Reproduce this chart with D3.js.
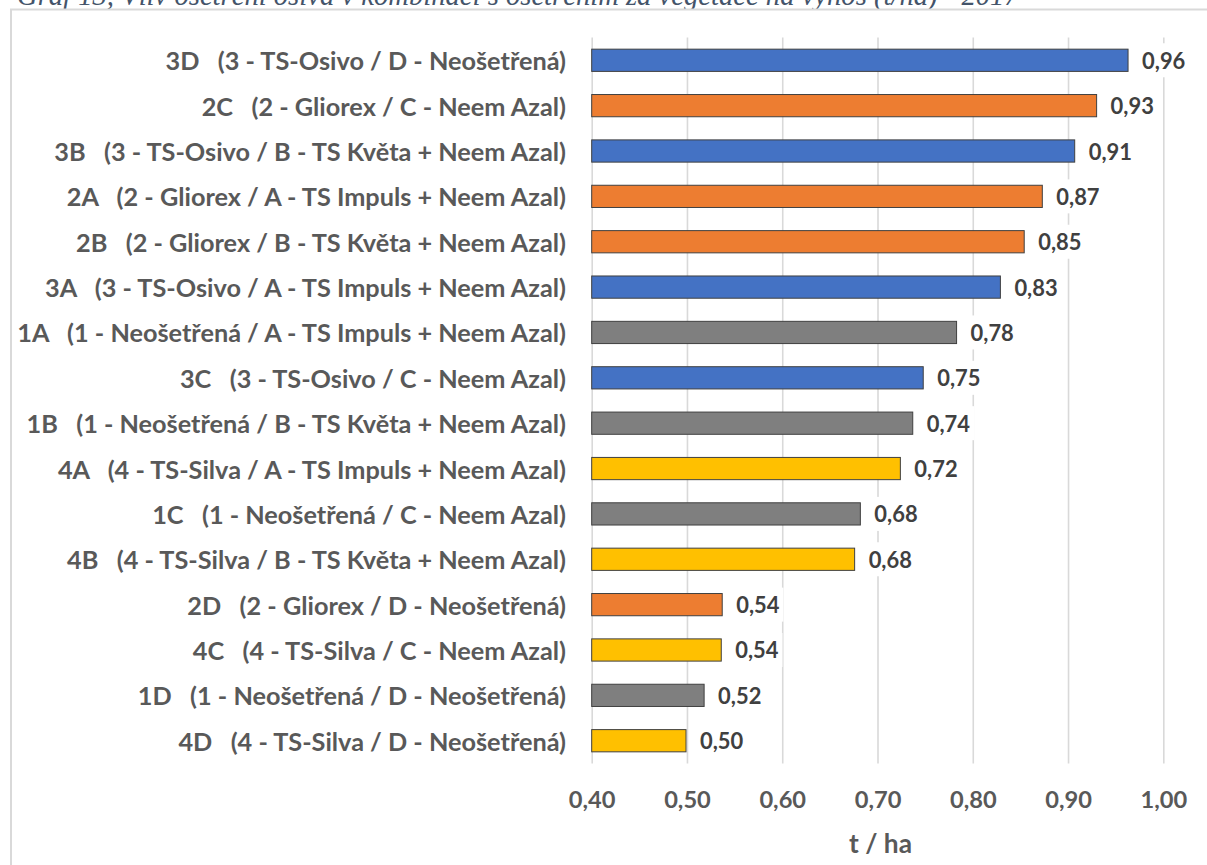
<!DOCTYPE html>
<html>
<head>
<meta charset="utf-8">
<script src="https://cdn.jsdelivr.net/npm/d3@7"></script>
<style>
  html, body { margin: 0; padding: 0; background: #fff; }
  svg { display: block; font-family: Lato, 'Open Sans', sans-serif; }
  text { white-space: pre; }
</style>
</head>
<body>
<div id="chart"></div>
<script>
/* global d3 */

// data
const title = 'Graf 13, Vliv ošetření osiva v kombinaci s ošetřením za vegetace na výnos (t/ha) - 2017';
const codes = ['3D', '2C', '3B', '2A', '2B', '3A', '1A', '3C', '1B', '4A', '1C', '4B', '2D', '4C', '1D', '4D'];
const treatments = [
  '(3 - TS-Osivo / D - Neošetřená)',
  '(2 - Gliorex / C - Neem Azal)',
  '(3 - TS-Osivo / B - TS Květa + Neem Azal)',
  '(2 - Gliorex / A - TS Impuls + Neem Azal)',
  '(2 - Gliorex / B - TS Květa + Neem Azal)',
  '(3 - TS-Osivo / A - TS Impuls + Neem Azal)',
  '(1 - Neošetřená / A - TS Impuls + Neem Azal)',
  '(3 - TS-Osivo / C - Neem Azal)',
  '(1 - Neošetřená / B - TS Květa + Neem Azal)',
  '(4 - TS-Silva / A - TS Impuls + Neem Azal)',
  '(1 - Neošetřená / C - Neem Azal)',
  '(4 - TS-Silva / B - TS Květa + Neem Azal)',
  '(2 - Gliorex / D - Neošetřená)',
  '(4 - TS-Silva / C - Neem Azal)',
  '(1 - Neošetřená / D - Neošetřená)',
  '(4 - TS-Silva / D - Neošetřená)',
];
const values = [0.963, 0.930, 0.907, 0.873, 0.854, 0.829, 0.783, 0.748, 0.737, 0.724, 0.682, 0.676, 0.537, 0.536, 0.518, 0.499];
const tickValues = [0.4, 0.5, 0.6, 0.7, 0.8, 0.9, 1.0];
const axisTitle = 't / ha';

// colour per seed treatment (first digit of the code)
const groupColor = { 1: '#7f7f7f', 2: '#ed7d31', 3: '#4472c4', 4: '#ffc000' };

const data = codes.map((code, i) => ({
  code,
  label: `${code}   ${treatments[i]}`,
  value: values[i],
}));

// dimensions
const WIDTH = 1207;
const HEIGHT = 865;
const plotLeft = 591.7;
const plotRight = 1163.3;
const plotTop = 37.6;
const plotBottom = 763.4;
const LABEL_GAP = 14;

const fmt = d3.formatLocale({ decimal: ',', thousands: ' ', grouping: [3], currency: ['', ''] }).format('.2f');

// scales
const scaleX = d3.scaleLinear().domain([0.4, 1.0]).range([plotLeft, plotRight]);
const scaleY = d3.scaleBand()
  .domain(codes)
  .range([plotTop, plotBottom])
  .paddingInner(0.51)
  .paddingOuter(0.255);

// shrink or grow a text selection so that its widest member has the target width
function fitWidth($text, target) {
  let widest = 0;
  $text.each(function measure() {
    widest = Math.max(widest, this.getComputedTextLength());
  });
  const size = parseFloat($text.style('font-size'));
  $text.style('font-size', `${(size * target) / widest}px`);
}

const $svg = d3.select('#chart')
  .append('svg')
  .attr('width', WIDTH)
  .attr('height', HEIGHT);

// title, cut off by the top of the page
const $title = $svg.append('text')
  .attr('x', 17)
  .attr('y', 4.5)
  .style('font-family', "'Liberation Serif', serif")
  .style('font-style', 'italic')
  .style('font-size', '20px')
  .attr('fill', '#44546a')
  .text(title);
fitWidth($title, 1002);

// chart frame
$svg.append('rect')
  .attr('x', 11)
  .attr('y', 9.5)
  .attr('width', 1400)
  .attr('height', 1000)
  .attr('fill', '#fff')
  .attr('stroke', '#d9d9d9')
  .attr('stroke-width', 2);

// grid
const $grid = $svg.append('g')
  .attr('class', 'grid')
  .attr('transform', `translate(0, ${plotBottom})`)
  .call(d3.axisBottom(scaleX)
    .tickValues(tickValues)
    .tickSize(-(plotBottom - plotTop))
    .tickFormat(''));
$grid.select('.domain').remove();
$grid.selectAll('line').attr('stroke', '#d9d9d9').attr('stroke-width', 1.6);

// tick labels
const $axis = $svg.append('g')
  .attr('class', 'axis--x')
  .attr('transform', `translate(0, ${plotBottom})`)
  .call(d3.axisBottom(scaleX).tickValues(tickValues).tickSize(0).tickFormat(fmt));
$axis.select('.domain').remove();
const $ticks = $axis.selectAll('text')
  .attr('y', 36)
  .attr('dy', null)
  .attr('dominant-baseline', 'central')
  .attr('fill', '#595959')
  .style('font-family', 'Lato, sans-serif')
  .style('font-weight', 700)
  .style('font-size', '20px');
fitWidth($ticks.filter(d => d === 0.4), 46.7);
$ticks.style('font-size', $ticks.filter(d => d === 0.4).style('font-size'));

// axis title
const $axisTitle = $svg.append('text')
  .attr('x', (plotLeft + plotRight) / 2 + 3)
  .attr('y', 843)
  .attr('text-anchor', 'middle')
  .attr('dominant-baseline', 'central')
  .attr('fill', '#595959')
  .style('font-weight', 700)
  .style('font-size', '22px')
  .text(axisTitle);
fitWidth($axisTitle, 63);

// bars
const $vis = $svg.append('g').attr('class', 'g-vis');

$vis.selectAll('.bar')
  .data(data)
  .join('rect')
  .attr('class', 'bar')
  .attr('x', scaleX(0.4))
  .attr('y', d => scaleY(d.code))
  .attr('width', d => scaleX(d.value) - scaleX(0.4))
  .attr('height', scaleY.bandwidth())
  .attr('fill', d => groupColor[d.code[0]])
  .attr('stroke', '#404040')
  .attr('stroke-width', 1);

// category labels
const $cats = $svg.append('g')
  .attr('class', 'axis--y')
  .selectAll('text')
  .data(data)
  .join('text')
  .attr('x', 566)
  .attr('y', d => scaleY(d.code) + scaleY.bandwidth() / 2)
  .attr('text-anchor', 'end')
  .attr('dominant-baseline', 'central')
  .attr('fill', '#595959')
  .style('font-weight', 700)
  .style('font-size', '20px')
  .text(d => d.label);
fitWidth($cats, 549);

// value labels with white boxes that break the grid
const $labels = $svg.append('g')
  .attr('class', 'g-labels')
  .selectAll('g')
  .data(data)
  .join('g')
  .attr('transform', d => `translate(${scaleX(d.value) + LABEL_GAP}, ${scaleY(d.code) + scaleY.bandwidth() / 2})`);

const $box = $labels.append('rect').attr('fill', '#fff');
const $valueText = $labels.append('text')
  .attr('dominant-baseline', 'central')
  .attr('fill', '#404040')
  .style('font-weight', 700)
  .style('font-size', '19px')
  .text(d => fmt(d.value));
fitWidth($valueText.filter((d, i) => i === 0), 43.3);
$valueText.style('font-size', $valueText.filter((d, i) => i === 0).style('font-size'));

$box.each(function sizeBox() {
  const w = this.parentNode.querySelector('text').getComputedTextLength();
  d3.select(this)
    .attr('x', -4)
    .attr('y', -17)
    .attr('width', w + 8)
    .attr('height', 34);
});
</script>
</body>
</html>
